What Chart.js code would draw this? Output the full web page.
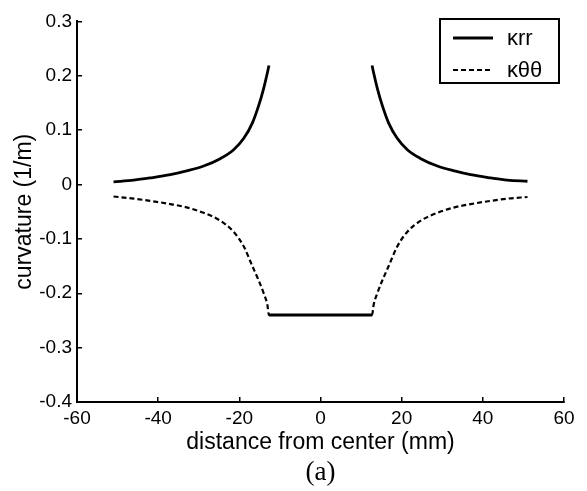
<!DOCTYPE html>
<html>
<head>
<meta charset="utf-8">
<script src="https://cdn.jsdelivr.net/npm/chart.js@4/dist/chart.umd.min.js"></script>
<style>
  html, body { margin: 0; padding: 0; background: #fff; }
  #wrap { width: 587px; height: 491px; }
</style>
</head>
<body>
<div id="wrap"><canvas id="curv" width="587" height="491"></canvas></div>
<script>
// radial position (mm) and the two curvature components (1/m)
const distance = [-51, -46, -42, -37, -33, -28.8, -24.6, -21.4, -18.9, -16.8, -15.2, -14, -13.1, -12.7,
  0,
  12.7, 13.1, 14, 15.2, 16.8, 18.9, 21.4, 24.6, 28.8, 33, 37, 42, 46, 51];
const kappaRR = [0.005, 0.008, 0.012, 0.018, 0.025, 0.034, 0.048, 0.064, 0.085, 0.113, 0.146, 0.177, 0.205, 0.219,
  null,
  0.219, 0.205, 0.177, 0.146, 0.113, 0.085, 0.064, 0.048, 0.034, 0.025, 0.018, 0.012, 0.008, 0.006];
const kappaTT = [-0.022, -0.026, -0.030, -0.036, -0.042, -0.052, -0.067, -0.087, -0.114, -0.150, -0.177, -0.200, -0.221, -0.240,
  -0.240,
  -0.240, -0.221, -0.200, -0.177, -0.150, -0.114, -0.087, -0.067, -0.052, -0.042, -0.036, -0.030, -0.026, -0.023];
const seriesNames = ["\u03barr", "\u03ba\u03b8\u03b8"];
const xLimits = [-60, 60];
const yLimits = [-0.4, 0.3];
const xStep = 20;
const yStep = 0.1;

const SANS = "'Liberation Sans', Arial, sans-serif";
const flatLevel = -0.24;

const toPoints = (vals) => distance.map((x, i) => ({ x, y: vals[i] }));
const isFlat = (c) => c.p0.parsed.y === flatLevel && c.p1.parsed.y === flatLevel;

// legend box drawn inside the plot, top-right
const boxLegend = {
  id: "boxLegend",
  afterDraw(chart) {
    const { ctx } = chart;
    const bx = 440, by = 19, bw = 119, bh = 64;
    ctx.save();
    ctx.fillStyle = "#fff";
    ctx.fillRect(bx, by, bw, bh);
    ctx.strokeStyle = "#000";
    ctx.lineWidth = 2;
    ctx.strokeRect(bx, by, bw, bh);
    chart.data.datasets.forEach((ds, i) => {
      const y = by + 19 + i * 32;
      ctx.beginPath();
      ctx.setLineDash(ds.borderDash || []);
      ctx.lineWidth = ds.borderWidth;
      ctx.moveTo(bx + 13, y);
      ctx.lineTo(bx + 53, y);
      ctx.stroke();
      ctx.setLineDash([]);
      ctx.fillStyle = "#000";
      ctx.font = "22px " + SANS;
      ctx.textBaseline = "middle";
      ctx.textAlign = "left";
      ctx.fillText(ds.label, bx + 67, y + 1);
    });
    ctx.restore();
  },
};

const fmtTick = (v) => String(Number(v.toFixed(1)));

new Chart(document.getElementById("curv"), {
  type: "line",
  data: {
    datasets: [
      {
        label: seriesNames[0],
        data: toPoints(kappaRR),
        borderColor: "#000",
        borderWidth: 2.8,
        pointRadius: 0,
        cubicInterpolationMode: "monotone",
        spanGaps: false,
      },
      {
        label: seriesNames[1],
        data: toPoints(kappaTT),
        borderColor: "#000",
        borderWidth: 2.2,
        borderDash: [5, 3],
        pointRadius: 0,
        cubicInterpolationMode: "monotone",
        segment: {
          borderDash: (c) => (isFlat(c) ? [] : [5, 3]),
          borderWidth: (c) => (isFlat(c) ? 3 : 2.2),
        },
      },
    ],
  },
  options: {
    responsive: false,
    animation: false,
    layout: { padding: { top: 14, right: 23, left: 0, bottom: 0 } },
    plugins: {
      legend: { display: false },
      tooltip: { enabled: false },
      title: {
        display: true,
        position: "bottom",
        fullSize: false,
        text: "(a)",
        color: "#000",
        font: { family: "'Liberation Serif', 'Times New Roman', serif", size: 27, weight: "normal" },
        padding: { top: 0, bottom: 2 },
      },
    },
    scales: {
      x: {
        type: "linear",
        min: xLimits[0],
        max: xLimits[1],
        border: { color: "#000", width: 2 },
        grid: { drawOnChartArea: false, color: "#000", lineWidth: 1.5, tickLength: -5 },
        ticks: {
          stepSize: xStep,
          color: "#000",
          padding: 10,
          maxRotation: 0,
          font: { family: SANS, size: 19 },
          callback: fmtTick,
        },
        title: {
          display: true,
          text: "distance from center (mm)",
          color: "#000",
          font: { family: SANS, size: 23 },
          padding: { top: 0, bottom: 0 },
        },
        afterFit: (s) => { s.height = 54.6; },
      },
      y: {
        type: "linear",
        min: yLimits[0],
        max: yLimits[1],
        border: { color: "#000", width: 2 },
        grid: { drawOnChartArea: false, color: "#000", lineWidth: 1.5, tickLength: -5 },
        ticks: {
          stepSize: yStep,
          color: "#000",
          padding: 10,
          font: { family: SANS, size: 19 },
          callback: fmtTick,
        },
        title: {
          display: true,
          text: "curvature (1/m)",
          color: "#000",
          font: { family: SANS, size: 23 },
          padding: { top: 11, bottom: 0 },
        },
        afterFit: (s) => { s.width = 77; },
      },
    },
  },
  plugins: [boxLegend],
});
</script>
</body>
</html>
